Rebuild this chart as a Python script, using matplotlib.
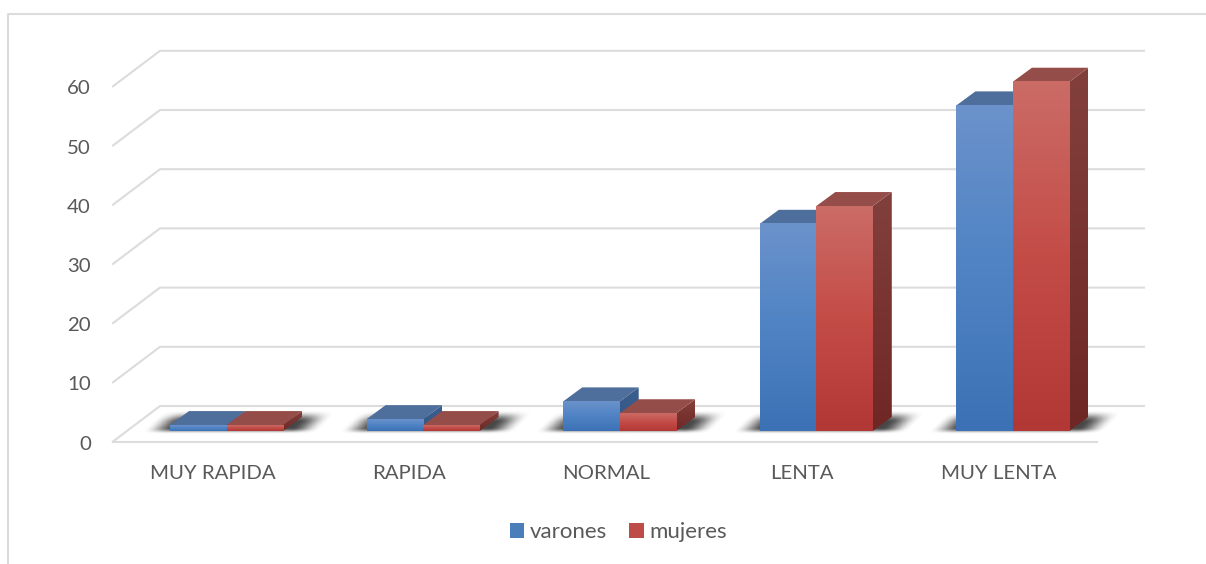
import numpy as np
import matplotlib
matplotlib.use("Agg")
import matplotlib.pyplot as plt
from matplotlib.colors import LinearSegmentedColormap
from matplotlib.lines import Line2D
from matplotlib.patches import Patch, Polygon

categories = ["MUY RAPIDA", "RAPIDA", "NORMAL", "LENTA", "MUY LENTA"]
varones = [1, 2, 5, 35, 55]
mujeres = [1, 1, 3, 38, 59]
y_ticks = [0, 10, 20, 30, 40, 50, 60]

W, H = 1206, 564
PX_X = 196.6   # pixels per category
PX_Y = 59.2 / 10   # pixels per value unit
X0, Y0 = 226.5, 431   # pixel of category 0 / value 0 on the bar plane
BAR = 56.5 / PX_X
DX, DY = 19 / PX_X, 14 / PX_Y   # bar depth
GRID = "#dcdcdc"
TEXT = "#595959"

plt.rcParams["font.family"] = ["Lato", "DejaVu Sans"]

blue_front = LinearSegmentedColormap.from_list("bf", ["#3c72b5", "#4f83c4", "#6b92cb"])
red_front = LinearSegmentedColormap.from_list("rf", ["#b23836", "#c44c47", "#cb6b66"])
blue_side = LinearSegmentedColormap.from_list("bs", ["#2f5586", "#3e5f8e"])
red_side = LinearSegmentedColormap.from_list("rs", ["#6f2725", "#82403c"])
blue_top, red_top = "#4e6e9b", "#954d4a"

fig = plt.figure(figsize=(W / 100, H / 100), dpi=100)
left, right, top, bottom = 113, 1144, 50, 445
ax = fig.add_axes([left / W, 1 - bottom / H, (right - left) / W, (bottom - top) / H])
x_lim = ((left - X0) / PX_X, (right - X0) / PX_X)
y_lim = ((Y0 - bottom) / PX_Y, (Y0 - top) / PX_Y)

front_dy = 10.5 / PX_Y
back_dy = 25 / PX_Y
wall_dx = 47 / PX_X
floor_dx = 47 / PX_X


def gradient(x0, x1, y0, y1, cmap, clip=None, z=3):
    im = ax.imshow(np.linspace(0, 1, 64).reshape(-1, 1), extent=(x0, x1, y0, y1), origin="lower",
                   cmap=cmap, aspect="auto", zorder=z, interpolation="bilinear")
    if clip is not None:
        im.set_clip_path(Polygon(clip, transform=ax.transData))
    return im


def smooth(t):
    t = np.clip(t, 0, 1)
    return t * t * (3 - 2 * t)


def shadow(xl, xr):
    # soft shadow on the floor, in pixels around the bar pair
    span = (xr - xl) * PX_X
    xx, yy = np.meshgrid(np.linspace(-45, span + 60, 260), np.linspace(-6, 24, 60))
    u = xx - 1.0 * yy
    a = smooth((u + 28) / 30) * smooth((span + 36 - u) / 30) * smooth((yy + 3) / 6) * smooth((21 - yy) / 12)
    img = np.zeros(a.shape + (4,))
    img[..., :3] = 0.2
    img[..., 3] = a * 0.9
    ax.imshow(img, extent=(xl - 45 / PX_X, xr + 60 / PX_X, -6 / PX_Y, 24 / PX_Y), origin="lower",
              aspect="auto", zorder=2, interpolation="bilinear", clip_on=False)


def bar3d(x, v, front, side, top_c, z):
    b = x + BAR
    ax.bar(x, v, BAR, align="edge", color="none", zorder=z)
    gradient(x, b, 0, v, front, z=z + 0.2)
    side_pts = [(b, 0), (b + DX, DY), (b + DX, v + DY), (b, v)]
    gradient(b, b + DX, 0, v + DY, side, clip=side_pts, z=z + 0.1)
    ax.add_patch(Polygon([(x, v), (b, v), (b + DX, v + DY), (x + DX, v + DY)], color=top_c, lw=0, zorder=z + 0.1))


# walls and floor
for v in y_ticks:
    ax.plot([x_lim[0], x_lim[0] + wall_dx, x_lim[1]], [v - front_dy, v + back_dy, v + back_dy],
            color=GRID, lw=1.5, zorder=1, clip_on=False)
ax.plot([x_lim[0], x_lim[1] - floor_dx], [-front_dy, -front_dy], color=GRID, lw=1.5, zorder=1, clip_on=False)

for i in range(len(categories)):
    shadow(i - BAR, i + BAR)
    bar3d(i - BAR, varones[i], blue_front, blue_side, blue_top, 3)
    bar3d(i, mujeres[i], red_front, red_side, red_top, 4)

# labels sit on the front edge of the floor, so they are shifted from the bars
ax.set_xticks([i - 14 / PX_X for i in range(len(categories))], categories)
ax.set_yticks([v - front_dy - 1 / PX_Y for v in y_ticks], y_ticks)
ax.set_xlim(*x_lim)
ax.set_ylim(*y_lim)
ax.tick_params(length=0, labelcolor=TEXT, labelsize=14.7)
ax.tick_params(axis="x", pad=14.5)
ax.tick_params(axis="y", pad=16)
for s in ax.spines.values():
    s.set_visible(False)
ax.patch.set_alpha(0)

handles = [Patch(facecolor="#4a7ebb", label="varones"), Patch(facecolor="#be4b48", label="mujeres")]
fig.legend(handles=handles, loc="center", bbox_to_anchor=(618.5 / W, 1 - 532 / H), ncol=2, frameon=False,
           fontsize=16, labelcolor=TEXT, handlelength=0.65, handleheight=0.65, handletextpad=0.25,
           columnspacing=1.0)

# chart frame
fig.add_artist(Line2D([8 / W, 8 / W, 1], [0, 1 - 14 / H, 1 - 14 / H], color=GRID, lw=1.5))

fig.savefig("out.png", dpi=100)
